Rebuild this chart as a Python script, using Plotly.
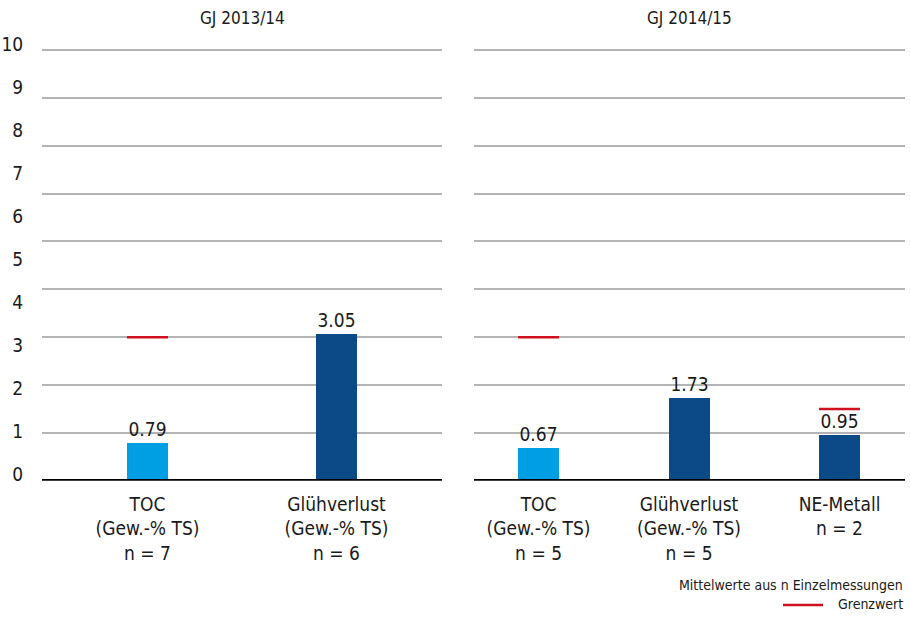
import plotly.graph_objects as go

# Werte je Geschäftsjahr (Mittelwerte aus n Einzelmessungen)
cats_1314 = ["TOC<br>(Gew.-% TS)<br>n = 7", "Glühverlust<br>(Gew.-% TS)<br>n = 6"]
vals_1314 = [0.79, 3.05]
limit_1314 = [3.0, None]
colors_1314 = ["#009fe3", "#0b4a87"]

cats_1415 = ["TOC<br>(Gew.-% TS)<br>n = 5", "Glühverlust<br>(Gew.-% TS)<br>n = 5", "NE-Metall<br>n = 2"]
vals_1415 = [0.67, 1.73, 0.95]
limit_1415 = [3.0, None, 1.5]
colors_1415 = ["#009fe3", "#0b4a87", "#0b4a87"]

panel_titles = ["GJ 2013/14", "GJ 2014/15"]
scale_values = list(range(0, 11))
scale_labels = [str(k) for k in scale_values]

FONT = "Ubuntu Condensed, Liberation Sans Narrow, DejaVu Sans Condensed, Arial Narrow, sans-serif"
TXT = "#1a1a1a"
RED = "#d0101e"
GRID = "#b4b4b4"

W, H = 910, 617
BASE_PX = 484          # Pixelzeile der Grundlinie
PX_PER_UNIT = 48.2     # Balkenskala
LABEL_PX = 43.2        # Abstand der Skalenbeschriftung
Y_TOP = 9.05
y_dom = [1 - BASE_PX / H, 1 - (BASE_PX - PX_PER_UNIT * Y_TOP) / H]
scale_top_px = 30
y3_dom = [1 - BASE_PX / H, 1 - scale_top_px / H]
y3_lo = -7 / LABEL_PX
y3_hi = y3_lo + (BASE_PX - scale_top_px) / LABEL_PX
x1_dom = [42 / W, 442 / W]
x2_dom = [474 / W, 905 / W]

fig = go.Figure()

w1, w2 = 0.217, 0.272
idx1 = list(range(len(cats_1314)))
idx2 = list(range(len(cats_1415)))

fig.add_trace(go.Bar(
    x=idx1, y=vals_1314, width=w1, marker=dict(color=colors_1314, line=dict(width=0)),
    text=[f"{v:.2f}" for v in vals_1314], textposition="outside", cliponaxis=False,
    textfont=dict(family=FONT, size=19, color=TXT), xaxis="x", yaxis="y", showlegend=False,
    hoverinfo="skip",
))
fig.add_trace(go.Bar(
    x=idx2, y=vals_1415, width=w2, marker=dict(color=colors_1415, line=dict(width=0)),
    text=[f"{v:.2f}" for v in vals_1415], textposition="outside", cliponaxis=False,
    textfont=dict(family=FONT, size=19, color=TXT), xaxis="x2", yaxis="y2", showlegend=False,
    hoverinfo="skip",
))
# unsichtbare Hilfsspur, damit die Skalenachse 0–10 gezeichnet wird
fig.add_trace(go.Scatter(
    x=[0] * len(scale_values), y=scale_values, xaxis="x", yaxis="y3", mode="markers",
    marker=dict(opacity=0, size=1), hoverinfo="skip", showlegend=False,
))

shapes = []
# Grenzwert-Markierungen über den Balken
for idx, lim, w, xr, yr in [(idx1, limit_1314, w1, "x", "y"), (idx2, limit_1415, w2, "x2", "y2")]:
    for i, l in zip(idx, lim):
        if l is None:
            continue
        shapes.append(dict(type="line", xref=xr, yref=yr, x0=i - w / 2, x1=i + w / 2, y0=l, y1=l,
                           line=dict(color=RED, width=2.5), layer="above"))
# Grundlinie je Panel
for xr, yr in [("x", "y"), ("x2", "y2")]:
    shapes.append(dict(type="line", xref=f"{xr} domain", yref=yr, x0=0, x1=1, y0=0, y1=0,
                       line=dict(color="#000000", width=3.5), layer="above"))
# Legendenlinie
shapes.append(dict(type="line", xref="paper", yref="paper", x0=783 / W, x1=823 / W,
                   y0=1 - 609 / H, y1=1 - 609 / H, line=dict(color=RED, width=2.5)))

annotations = []
for t, dom in zip(panel_titles, [x1_dom, x2_dom]):
    annotations.append(dict(text=t, xref="paper", yref="paper", x=(dom[0] + dom[1]) / 2, y=1 - 18 / H,
                            xanchor="center", yanchor="middle", showarrow=False,
                            font=dict(family=FONT, size=17, color=TXT)))
annotations.append(dict(text="Mittelwerte aus n Einzelmessungen", xref="paper", yref="paper",
                        x=905 / W, y=1 - 589 / H, xanchor="right", yanchor="middle", showarrow=False,
                        font=dict(family=FONT, size=14, color=TXT)))
annotations.append(dict(text="Grenzwert", xref="paper", yref="paper",
                        x=905 / W, y=1 - 608 / H, xanchor="right", yanchor="middle", showarrow=False,
                        font=dict(family=FONT, size=14, color=TXT)))

xcommon = dict(showgrid=False, zeroline=False, showline=False, ticks="outside", ticklen=6,
               tickcolor="rgba(0,0,0,0)", tickfont=dict(family=FONT, size=19, color=TXT), fixedrange=True)
ycommon = dict(range=[0, Y_TOP], dtick=1, showgrid=True, gridcolor=GRID, gridwidth=1.5, zeroline=False,
               showline=False, showticklabels=False, domain=y_dom, fixedrange=True)

fig.update_layout(
    width=W, height=H, margin=dict(l=0, r=0, t=0, b=0),
    paper_bgcolor="white", plot_bgcolor="rgba(0,0,0,0)",
    shapes=shapes, annotations=annotations, bargap=0,
    xaxis=dict(domain=x1_dom, range=[-0.558, 1.558], tickvals=idx1, ticktext=cats_1314, anchor="y", **xcommon),
    xaxis2=dict(domain=x2_dom, range=[-0.429, 2.435], tickvals=idx2, ticktext=cats_1415, anchor="y2", **xcommon),
    yaxis=dict(anchor="x", **ycommon),
    yaxis2=dict(anchor="x2", **ycommon),
    # Beschriftung der Werteskala 0–10
    yaxis3=dict(anchor="x", side="left", domain=y3_dom,
                range=[y3_lo, y3_hi], tickvals=scale_values,
                ticktext=scale_labels, showgrid=False, zeroline=False, showline=False,
                ticks="outside", ticklen=14, tickcolor="rgba(0,0,0,0)", fixedrange=True,
                tickfont=dict(family=FONT, size=19, color=TXT)),
)

fig.write_html("out.html")
